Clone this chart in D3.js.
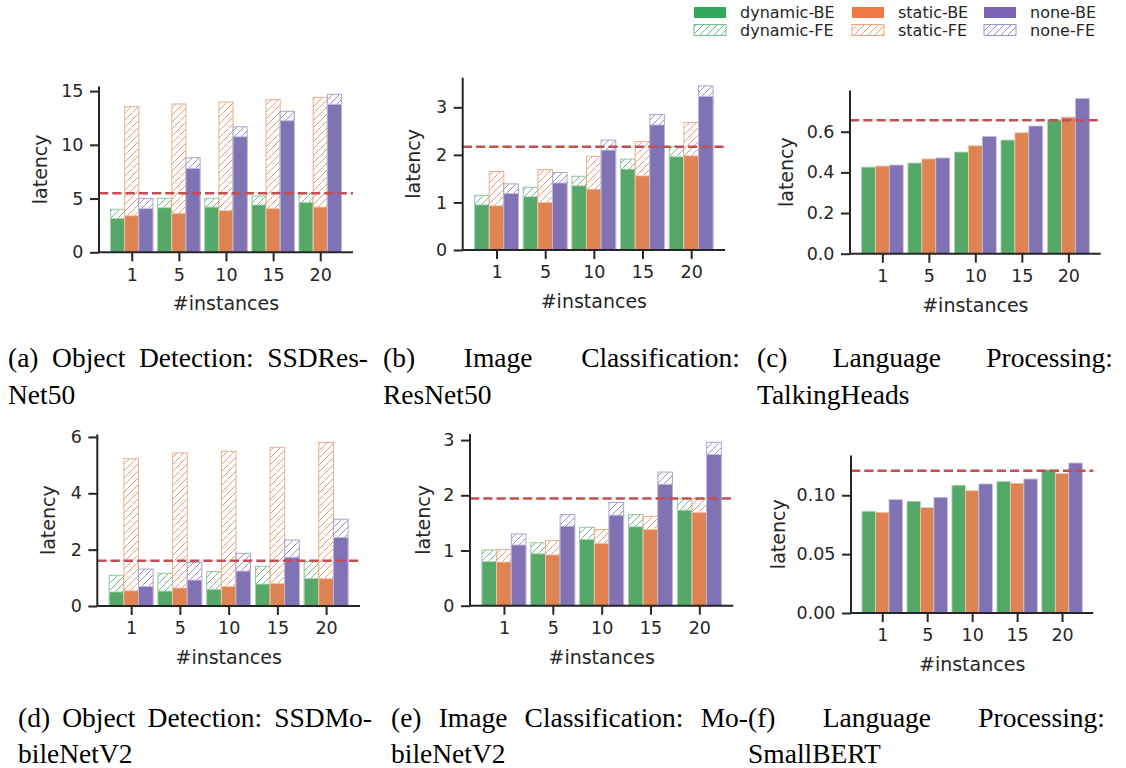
<!DOCTYPE html>
<html>
<head>
<meta charset="utf-8">
<script src="https://cdn.jsdelivr.net/npm/d3@7"></script>
<style>
  body { margin: 0; background: #fff; }
  svg { display: block; }
</style>
</head>
<body>
<svg id="fig" width="1126" height="768"></svg>
<script>
// ---- data -------------------------------------------------------------
const instances = ["1", "5", "10", "15", "20"];
const policies = ["dynamic", "static", "none"];

// rows: dynamic, static, none ; columns follow `instances`
// BE = backend latency, FE = end-to-end (frontend) latency
const ssdResNet50BE = [[3.16, 4.15, 4.21, 4.40, 4.65], [3.40, 3.63, 3.87, 4.06, 4.21], [4.06, 7.81, 10.75, 12.24, 13.77]];
const ssdResNet50FE = [[4.00, 5.02, 5.02, 5.24, 5.49], [13.55, 13.80, 13.98, 14.20, 14.42], [5.02, 8.80, 11.68, 13.12, 14.70]];
const ssdResNet50SLO = 5.49;

const resNet50BE = [[0.95, 1.12, 1.35, 1.70, 1.96], [0.93, 1.00, 1.28, 1.56, 1.98], [1.19, 1.41, 2.10, 2.63, 3.23]];
const resNet50FE = [[1.15, 1.32, 1.55, 1.91, 2.17], [1.65, 1.69, 1.97, 2.28, 2.68], [1.39, 1.63, 2.31, 2.85, 3.45]];
const resNet50SLO = 2.17;

const talkingHeadsBE = [[0.426, 0.446, 0.500, 0.559, 0.658], [0.431, 0.466, 0.531, 0.595, 0.672], [0.436, 0.471, 0.577, 0.628, 0.764]];
const talkingHeadsSLO = 0.656;

const ssdMobileNetV2BE = [[0.50, 0.53, 0.59, 0.78, 0.98], [0.54, 0.64, 0.69, 0.80, 0.97], [0.69, 0.92, 1.24, 1.73, 2.43]];
const ssdMobileNetV2FE = [[1.09, 1.16, 1.22, 1.41, 1.59], [5.23, 5.43, 5.49, 5.63, 5.80], [1.31, 1.55, 1.87, 2.34, 3.08]];
const ssdMobileNetV2SLO = 1.61;

const mobileNetV2BE = [[0.80, 0.94, 1.20, 1.43, 1.73], [0.79, 0.92, 1.13, 1.38, 1.69], [1.10, 1.44, 1.64, 2.20, 2.74]];
const mobileNetV2FE = [[1.01, 1.14, 1.42, 1.65, 1.94], [1.02, 1.18, 1.38, 1.62, 1.94], [1.30, 1.65, 1.87, 2.42, 2.96]];
const mobileNetV2SLO = 1.94;

const smallBertBE = [[0.0864, 0.0949, 0.1085, 0.1116, 0.1215], [0.0855, 0.0895, 0.1039, 0.1102, 0.1184], [0.0963, 0.0983, 0.1096, 0.1138, 0.1274]];
const smallBertSLO = 0.1209;

const ticksA = [0, 5, 10, 15];
const ticksB = [0, 1, 2, 3];
const ticksC = [0, 0.2, 0.4, 0.6];
const ticksD = [0, 2, 4, 6];
const ticksE = [0, 1, 2, 3];
const ticksF = [0, 0.05, 0.10];

const captionA = ["(a) Object Detection: SSDRes-", "Net50"];
const captionB = ["(b) Image Classification:", "ResNet50"];
const captionC = ["(c) Language Processing:", "TalkingHeads"];
const captionD = ["(d) Object Detection: SSDMo-", "bileNetV2"];
const captionE = ["(e) Image Classification: Mo-", "bileNetV2"];
const captionF = ["(f) Language Processing:", "SmallBERT"];

// ---- styling ------------------------------------------------------------
const barColor = { dynamic: "#55a868", static: "#dd8452", none: "#8172b3" };
const legendColor = { dynamic: "#31a85c", static: "#ee7a43", none: "#7b64b6" };
const ink = "#262626";
const sloColor = "#c44e52";
const tickFont = 17.5;
const labelFont = 19;
const light = (c, t) => d3.interpolateRgb(c, "#ffffff")(t);

const svg = d3.select("#fig");
const defs = svg.append("defs");

// diagonal hatch fills, one per policy
function hatch(id, color) {
  const p = defs.append("pattern")
    .attr("id", id)
    .attr("patternUnits", "userSpaceOnUse")
    .attr("width", 7).attr("height", 7);
  p.append("rect").attr("width", 7).attr("height", 7).attr("fill", "#fff");
  p.append("path")
    .attr("d", "M-1,1 L1,-1 M0,7 L7,0 M6,8 L8,6")
    .attr("stroke", color).attr("stroke-width", 1).attr("fill", "none");
}
policies.forEach(k => {
  hatch("hatch-" + k, light(barColor[k], 0.2));
  hatch("hatch-leg-" + k, light(legendColor[k], 0.25));
});

// ---- panels -------------------------------------------------------------
const panels = [
  { be: ssdResNet50BE, fe: ssdResNet50FE, slo: ssdResNet50SLO, ticks: ticksA, fmt: d3.format("d"),
    box: { left: 99, right: 353, top: 86.4, bottom: 252.3 }, ylabX: 47 },
  { be: resNet50BE, fe: resNet50FE, slo: resNet50SLO, ticks: ticksB, fmt: d3.format("d"),
    box: { left: 462.7, right: 725, top: 77.7, bottom: 250 }, ylabX: 420.4 },
  { be: talkingHeadsBE, fe: null, slo: talkingHeadsSLO, ticks: ticksC, fmt: d3.format(".1f"),
    box: { left: 850, right: 1100.7, top: 90.6, bottom: 253.7 }, ylabX: 793 },
  { be: ssdMobileNetV2BE, fe: ssdMobileNetV2FE, slo: ssdMobileNetV2SLO, ticks: ticksD, fmt: d3.format("d"),
    box: { left: 97.3, right: 360, top: 434.4, bottom: 606 }, ylabX: 55.4 },
  { be: mobileNetV2BE, fe: mobileNetV2FE, slo: mobileNetV2SLO, ticks: ticksE, fmt: d3.format("d"),
    box: { left: 470, right: 733.3, top: 434.1, bottom: 605.7 }, ylabX: 429.7 },
  { be: smallBertBE, fe: null, slo: smallBertSLO, ticks: ticksF, fmt: d3.format(".2f"),
    box: { left: 851, right: 1093.3, top: 455.5, bottom: 613 }, ylabX: 785.4 }
];

const barW = 0.3;
const offsets = [-barW, 0, barW];

function drawPanel(p) {
  const b = p.box;
  const all = d3.merge((p.fe || p.be));
  const ymax = d3.max(all) * 1.05;
  const lo = -(barW * 1.5), hi = instances.length - 1 + barW * 1.5;
  const pad = (hi - lo) * 0.05;
  const x = d3.scaleLinear().domain([lo - pad, hi + pad]).range([b.left, b.right]);
  const y = d3.scaleLinear().domain([0, ymax]).range([b.bottom, b.top]);
  const g = svg.append("g");

  policies.forEach((k, pi) => {
    const col = barColor[k];
    if (p.fe) {
      g.selectAll(null).data(p.fe[pi]).enter().append("rect")
        .attr("x", (d, i) => x(i + offsets[pi] - barW / 2))
        .attr("width", x(barW) - x(0))
        .attr("y", d => y(d))
        .attr("height", d => y(0) - y(d))
        .attr("fill", `url(#hatch-${k})`)
        .attr("stroke", light(col, 0.35))
        .attr("stroke-width", 1);
    }
    g.selectAll(null).data(p.be[pi]).enter().append("rect")
      .attr("x", (d, i) => x(i + offsets[pi] - barW / 2))
      .attr("width", x(barW) - x(0))
      .attr("y", d => y(d))
      .attr("height", d => y(0) - y(d))
      .attr("fill", col)
      .attr("stroke", light(col, 0.55))
      .attr("stroke-width", 0.8);
  });

  // SLO threshold
  g.append("line")
    .attr("x1", b.left).attr("x2", b.right)
    .attr("y1", y(p.slo)).attr("y2", y(p.slo))
    .attr("stroke", sloColor).attr("stroke-width", 2.5)
    .attr("stroke-dasharray", "9.25 4");

  const xAxis = d3.axisBottom(x)
    .tickValues(d3.range(instances.length))
    .tickFormat(i => instances[i])
    .tickSize(9).tickPadding(7);
  const yAxis = d3.axisLeft(y)
    .tickValues(p.ticks).tickFormat(p.fmt)
    .tickSize(9).tickPadding(6.5);

  const gx = g.append("g").attr("transform", `translate(0,${b.bottom})`).call(xAxis);
  const gy = g.append("g").attr("transform", `translate(${b.left},0)`).call(yAxis);
  [gx, gy].forEach(ax => {
    ax.select(".domain").attr("stroke", ink).attr("stroke-width", 2);
    ax.selectAll(".tick line").attr("stroke", ink).attr("stroke-width", 2);
    ax.selectAll(".tick text").attr("fill", ink)
      .attr("font-family", "DejaVu Sans").attr("font-size", tickFont);
  });
  // seaborn-style spines: no outer tick caps
  gx.select(".domain").attr("d", `M${b.left},0H${b.right}`);
  gy.select(".domain").attr("d", `M0,${b.bottom}V${b.top}`);

  g.append("text")
    .attr("x", (b.left + b.right) / 2).attr("y", b.bottom + 58)
    .attr("text-anchor", "middle")
    .attr("font-family", "DejaVu Sans").attr("font-size", labelFont).attr("fill", ink)
    .text("#instances");
  g.append("text")
    .attr("transform", `translate(${p.ylabX},${(b.top + b.bottom) / 2}) rotate(-90)`)
    .attr("text-anchor", "middle")
    .attr("font-family", "DejaVu Sans").attr("font-size", labelFont).attr("fill", ink)
    .text("latency");
}
panels.forEach(drawPanel);

// ---- legend -------------------------------------------------------------
const legCols = [694, 852, 984];
const legRows = [{ y: 7, kind: "BE" }, { y: 24.5, kind: "FE" }];
const leg = svg.append("g");
policies.forEach((k, ci) => {
  legRows.forEach(r => {
    leg.append("rect")
      .attr("x", legCols[ci]).attr("y", r.y)
      .attr("width", 32).attr("height", 11)
      .attr("fill", r.kind === "BE" ? legendColor[k] : `url(#hatch-leg-${k})`)
      .attr("stroke", r.kind === "BE" ? "none" : light(legendColor[k], 0.3))
      .attr("stroke-width", 1);
    leg.append("text")
      .attr("x", legCols[ci] + 46).attr("y", r.y + 5.5)
      .attr("dy", "0.36em")
      .attr("font-family", "DejaVu Sans").attr("font-size", 16).attr("fill", ink)
      .text(`${k}-${r.kind}`);
  });
});

// ---- captions (justified two-line serif captions) -----------------------
const capFont = 27.5;
function caption(lines, xl, xr, base, lh) {
  const g = svg.append("g")
    .attr("transform", `translate(${xl},${base})`)
    .attr("font-family", "Liberation Serif").attr("font-size", capFont).attr("fill", "#000");
  const W = xr - xl;
  lines.forEach((line, li) => {
    const words = line.split(" ");
    const nodes = words.map(w => g.append("text").attr("y", li * lh).text(w));
    const widths = nodes.map(n => n.node().getComputedTextLength());
    const last = li === lines.length - 1;
    const gap = (!last && words.length > 1)
      ? Math.max((W - d3.sum(widths)) / (words.length - 1), capFont * 0.2)
      : capFont * 0.25;
    let cx = 0;
    nodes.forEach((n, i) => { n.attr("x", cx); cx += widths[i] + gap; });
  });
}
caption(captionA, 8, 368, 367, 37);
caption(captionB, 383, 740, 367, 37);
caption(captionC, 757, 1113, 367, 37);
caption(captionD, 18, 372, 727, 36);
caption(captionE, 391, 748, 727, 36);
caption(captionF, 748, 1105, 727, 36);
</script>
</body>
</html>
